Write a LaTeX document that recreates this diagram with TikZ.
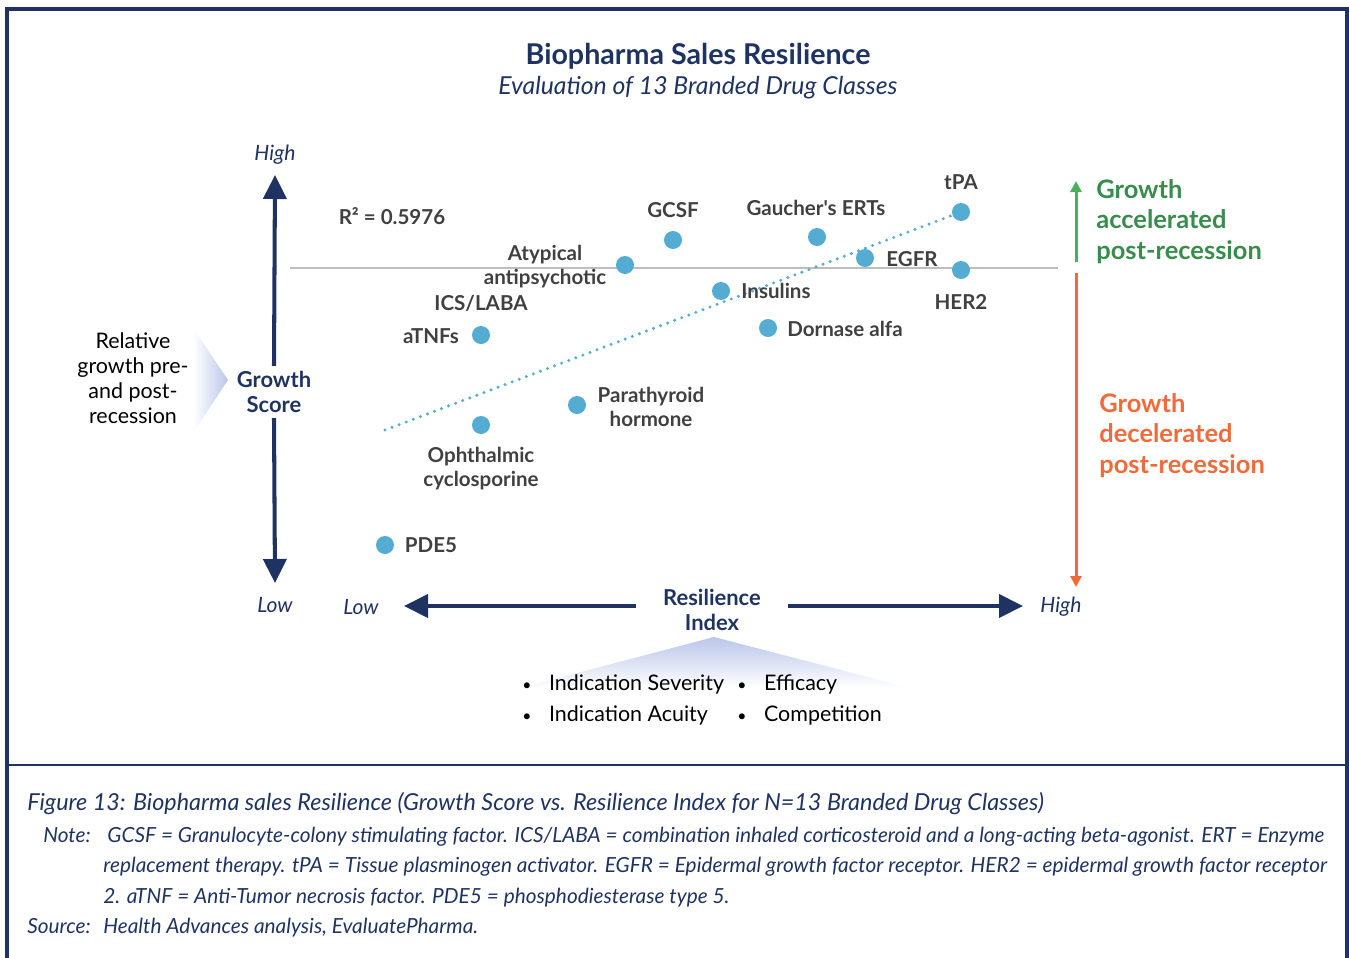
\documentclass[tikz,border=0pt]{standalone}
\usepackage{fontspec}
\setmainfont{Lato}[Ligatures=TeXOff]
\usetikzlibrary{arrows.meta,positioning}

\definecolor{navy}{RGB}{31,51,99}
\definecolor{dotblue}{RGB}{85,172,210}
\definecolor{labelgray}{RGB}{64,64,64}
\definecolor{midline}{RGB}{190,190,190}
\definecolor{upgreen}{RGB}{76,175,96}
\definecolor{upgreentext}{RGB}{56,140,76}
\definecolor{downorange}{RGB}{240,106,58}
\definecolor{lavender}{RGB}{186,198,234}

\tikzset{
  dot/.style={circle, fill=dotblue, inner sep=0pt, minimum size=0.36cm},
  lbl/.style={font=\bfseries\fontsize{11.7}{13.6}\selectfont, text=labelgray, inner sep=0pt, align=center},
  axislbl/.style={font=\bfseries\fontsize{12.5}{14.2}\selectfont, text=navy, align=center},
  endlbl/.style={font=\itshape\fontsize{12}{14}\selectfont, text=navy, inner sep=0pt},
  axisarrow/.style={draw=navy, line width=2.3pt, -{Triangle[width=0.46cm,length=0.48cm]}},
  sidetext/.style={font=\bfseries\fontsize{14.5}{17.3}\selectfont, align=left, inner sep=0pt, anchor=north west},
  plain/.style={font=\fontsize{12.2}{14.2}\selectfont, inner sep=0pt},
  capline/.style={font=\itshape\fontsize{11.85}{13}\selectfont, text=navy, inner sep=0pt, anchor=base west},
}

\newcommand{\blt}{{\fontsize{9}{9}\selectfont•}}

\begin{document}
\begin{tikzpicture}[x=0.02cm, y=-0.02cm]
  \useasboundingbox (0,0) rectangle (1349,957);

  % 枠
  \draw[navy, line width=1.8pt] (7,960) -- (7,9) -- (1347,9) -- (1347,960);
  \draw[navy, line width=1.3pt] (7,765) -- (1347,765);

  % タイトル
  \node[font=\bfseries\fontsize{16.3}{19}\selectfont, text=navy] (title) at (698,56) {Biopharma Sales Resilience};
  \node[font=\itshape\fontsize{14.1}{17}\selectfont, text=navy] (subtitle) at (698,88) {Evaluation of 13 Branded Drug Classes};

  % 縦軸
  \node[axislbl, inner xsep=0pt, inner ysep=0.1cm] (gs) at (274,392) {Growth\\Score};
  \coordinate (yhigh) at (275,175);
  \coordinate (ylow) at (275,583);
  \draw[axisarrow] (gs.north) -- (yhigh);
  \draw[axisarrow] (gs.south) -- (ylow);
  \node[endlbl] (yhighlbl) at (275,155) {High};
  \node[endlbl] (ylowlbl) at (275,605) {Low};

  \shade[left color=white, right color=lavender] (193,328) -- (228,380) -- (193,433) -- cycle;
  \node[plain, align=center] (relgrowth) at (133,378) {Relative\\growth pre-\\and post-\\recession};

  % 横軸
  \node[axislbl, inner xsep=0.54cm, inner ysep=0pt] (ri) at (712,610) {Resilience\\Index};
  \coordinate (xlow) at (404,606);
  \coordinate (xhigh) at (1023,606);
  \draw[axisarrow] (ri.west |- xlow) -- (xlow);
  \draw[axisarrow] (ri.east |- xhigh) -- (xhigh);
  \node[endlbl] (xlowlbl) at (361,607) {Low};
  \node[endlbl] (xhighlbl) at (1061,607) {High};

  \shade[top color=lavender, bottom color=white] (714,637) -- (910,688) -- (520,688) -- cycle;
  \node[plain, anchor=west] (sev) at (522,684) {\blt\hspace{10pt}Indication Severity};
  \node[plain, anchor=west] (acu) at (522,715) {\blt\hspace{10pt}Indication Acuity};
  \node[plain, anchor=west] (eff) at (737,684) {\blt\hspace{10pt}Efficacy};
  \node[plain, anchor=west] (comp) at (737,715) {\blt\hspace{10pt}Competition};

  % 基準線
  \coordinate (mlstart) at (290,268);
  \coordinate (mlend) at (1058,268);
  \draw[midline, line width=1.4pt] (mlstart) -- (mlend);

  % 点
  \node[dot] (gcsf) at (673,240) {};
  \node[dot] (gaucher) at (817,237) {};
  \node[dot] (tpa) at (961,212) {};
  \node[dot] (atyp) at (625,265) {};
  \node[dot] (egfr) at (865,258) {};
  \node[dot] (her2) at (961,270) {};
  \node[dot] (insulin) at (721,291) {};
  \node[dot] (atnf) at (481,335) {};
  \node[dot] (dornase) at (768,328) {};
  \node[dot] (pth) at (577,405) {};
  \node[dot] (ophth) at (481,425) {};
  \node[dot] (pde5) at (385,545) {};

  % 回帰直線
  \coordinate (trendstart) at (385,430);
  \draw[dotblue, line width=1.9pt, dash pattern=on 0pt off 4.3pt, line cap=round] (trendstart) -- (tpa.center);
  \node[lbl, text=labelgray] (rsq) at (392,216) {R² = 0.5976};

  % ラベル
  \node[lbl] at (673,210) {GCSF};
  \node[lbl] at (816,208) {Gaucher's ERTs};
  \node[lbl] at (961,182) {tPA};
  \node[lbl] at (545,267) {Atypical\\antipsychotic};
  \node[lbl] at (912,259) {EGFR};
  \node[lbl] at (961,302) {HER2};
  \node[lbl] at (776,291) {Insulins};
  \node[lbl] at (481,303) {ICS/LABA};
  \node[lbl] at (431,336) {aTNFs};
  \node[lbl] at (845,329) {Dornase alfa};
  \node[lbl] at (651,407) {Parathyroid\\hormone};
  \node[lbl] at (481,469) {Ophthalmic\\cyclosporine};
  \node[lbl] at (431,545) {PDE5};

  % 右の矢印
  \coordinate (upbase) at (1076,262);
  \coordinate (uptip) at (1076,181);
  \coordinate (downbase) at (1076,273);
  \coordinate (downtip) at (1076,587);
  \draw[upgreen, line width=1.7pt, -{Triangle[width=0.22cm,length=0.22cm]}] (upbase) -- (uptip);
  \draw[downorange, line width=1.7pt, -{Triangle[width=0.22cm,length=0.22cm]}] (downbase) -- (downtip);
  \node[sidetext, text=upgreentext] (acc) at (1096,179) {Growth\\accelerated\\post-recession};
  \node[sidetext, text=downorange] (dec) at (1099,393) {Growth\\decelerated\\post-recession};

  % キャプション
  \node[capline, font=\itshape\fontsize{13.3}{15}\selectfont] (cap) at (27,810) {Figure 13: Biopharma sales Resilience (Growth Score vs. Resilience Index for N=13 Branded Drug Classes)};
  \node[capline] (notehd) at (43,842) {Note:};
  \node[capline] (note1) at (107,842) {GCSF = Granulocyte-colony stimulating factor. ICS/LABA = combination inhaled corticosteroid and a long-acting beta-agonist. ERT = Enzyme};
  \node[capline] (note2) at (103,872) {replacement therapy. tPA = Tissue plasminogen activator. EGFR = Epidermal growth factor receptor. HER2 = epidermal growth factor receptor};
  \node[capline] (note3) at (103,903) {2. aTNF = Anti-Tumor necrosis factor. PDE5 = phosphodiesterase type 5.};
  \node[capline] (srchd) at (27,933) {Source:};
  \node[capline] (src) at (103,933) {Health Advances analysis, EvaluatePharma.};
\end{tikzpicture}
\end{document}
